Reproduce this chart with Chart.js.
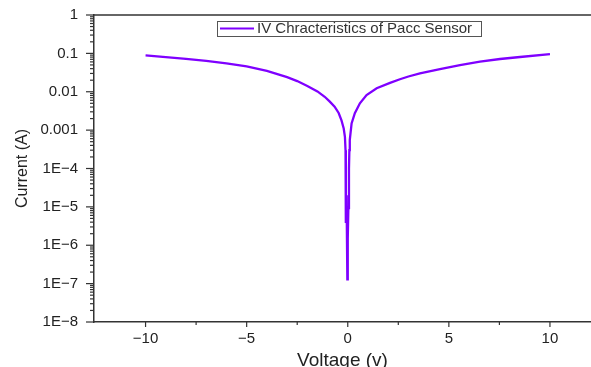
<!DOCTYPE html>
<html><head><meta charset="utf-8">
<script src="https://cdn.jsdelivr.net/npm/chart.js@4"></script>
<style>html,body{margin:0;padding:0;background:#fff}#wrap{width:591px;height:367px}</style>
</head><body><div id="wrap"><canvas id="c" width="591" height="367"></canvas></div>
<script>
const seriesLabel = "IV Chracteristics of Pacc Sensor";
const voltage = [-10,-9,-8,-7,-6,-5,-4,-3,-2.5,-2,-1.5,-1.14,-0.9,-0.65,-0.45,-0.31,-0.2,-0.14,-0.11,-0.1,-0.09,-0.06,-0.02,0.0,0.03,0.06,0.08,0.1,0.19,0.35,0.6,0.93,1.43,2.09,2.58,3.0,3.57,4.56,5.55,6.54,7.53,8.52,10];
const current = [0.089,0.080,0.072,0.064,0.055,0.046,0.035,0.024,0.019,0.0142,0.0102,0.0074,0.0056,0.0041,0.0028,0.0018,0.0011,0.00067,0.0003,0.00017,3.8e-6,2e-5,1.3e-7,1.5e-6,9.3e-6,0.0001,0.0003,0.00055,0.0015,0.00275,0.005,0.0082,0.0123,0.0170,0.0212,0.025,0.0303,0.039,0.0497,0.0607,0.0713,0.0805,0.096];
const xTicks = [-10,-5,0,5,10];
const xMinorTicks = [-7.5,-2.5,2.5,7.5];
const yTicks = [1,0.1,0.01,0.001,1e-4,1e-5,1e-6,1e-7,1e-8];
const yLabels = ["1","0.1","0.01","0.001","1E\u22124","1E\u22125","1E\u22126","1E\u22127","1E\u22128"];

const AXIS = '#333333';
const FONT = '"Liberation Sans", Arial, sans-serif';

const axesPlugin = {
  id: 'axesDeco',
  afterDraw(chart) {
    const ctx = chart.ctx, a = chart.chartArea;
    const xs = chart.scales.x, ys = chart.scales.y;
    ctx.save();
    ctx.strokeStyle = AXIS;
    ctx.lineWidth = 1.5;
    ctx.beginPath(); ctx.moveTo(a.left, a.top); ctx.lineTo(a.right, a.top); ctx.stroke();
    ctx.lineWidth = 1.2;
    yTicks.forEach(v => { const p = ys.getPixelForValue(v); ctx.beginPath(); ctx.moveTo(a.left-8, p); ctx.lineTo(a.left, p); ctx.stroke(); });
    for (let e = -8; e < 0; e++) {
      for (let m = 2; m <= 9; m++) {
        const p = ys.getPixelForValue(m * Math.pow(10, e));
        ctx.beginPath(); ctx.moveTo(a.left-4, p); ctx.lineTo(a.left, p); ctx.stroke();
      }
    }
    xTicks.forEach(v => { const p = xs.getPixelForValue(v); ctx.beginPath(); ctx.moveTo(p, a.bottom); ctx.lineTo(p, a.bottom+5); ctx.stroke(); });
    xMinorTicks.forEach(v => { const p = xs.getPixelForValue(v); ctx.beginPath(); ctx.moveTo(p, a.bottom); ctx.lineTo(p, a.bottom+3); ctx.stroke(); });
    const ds = chart.data.datasets[0];
    ctx.strokeStyle = '#555'; ctx.lineWidth = 1;
    ctx.strokeRect(217.5, 21.5, 264, 15);
    ctx.strokeStyle = ds.borderColor; ctx.lineWidth = 2;
    ctx.beginPath(); ctx.moveTo(220, 28.5); ctx.lineTo(254, 28.5); ctx.stroke();
    ctx.fillStyle = '#333'; ctx.font = '15px ' + FONT; ctx.textBaseline = 'middle'; ctx.textAlign = 'left';
    ctx.fillText(ds.label, 257, 29);
    ctx.restore();
  }
};

new Chart(document.getElementById('c'), {
  type: 'line',
  data: { datasets: [{
    label: seriesLabel,
    data: voltage.map((v, i) => ({x: v, y: current[i]})),
    borderColor: '#7f00ff', borderWidth: 2.3, pointRadius: 0, tension: 0, fill: false
  }]},
  options: {
    responsive: false, animation: false, devicePixelRatio: 1,
    layout: { padding: { top: 15, right: 0, left: 0, bottom: 0 } },
    plugins: { legend: { display: false }, tooltip: { enabled: false } },
    scales: {
      x: {
        type: 'linear', min: -12.55, max: 12.03,
        afterBuildTicks: s => { s.ticks = xTicks.map(v => ({value: v})); },
        afterFit: s => { s.height = 45; s.paddingLeft = 0; s.paddingRight = 0; },
        grid: { display: true, drawOnChartArea: false, drawTicks: false },
        border: { display: true, color: AXIS, width: 1.5 },
        ticks: { padding: 8, color: '#222', font: { family: FONT, size: 15 }, callback: v => v < 0 ? '\u2212' + Math.abs(v) : String(v) },
        title: { display: true, text: 'Voltage (v)', color: '#222', font: { family: FONT, size: 19 }, padding: { top: 0, bottom: -5 } }
      },
      y: {
        type: 'logarithmic', min: 1e-8, max: 1,
        afterBuildTicks: s => { s.ticks = yTicks.map(v => ({value: v})); },
        afterFit: s => { s.width = 94; s.paddingTop = 0; s.paddingBottom = 0; },
        grid: { display: true, drawOnChartArea: false, drawTicks: false },
        border: { display: true, color: AXIS, width: 1.5 },
        ticks: { padding: 16, color: '#222', font: { family: FONT, size: 15 }, callback: v => { const i = yTicks.indexOf(v); return i >= 0 ? yLabels[i] : ''; } },
        title: { display: true, text: 'Current (A)', color: '#222', font: { family: FONT, size: 16 }, padding: { top: 13, bottom: 0 } }
      }
    }
  },
  plugins: [axesPlugin]
});
</script>
</body></html>
